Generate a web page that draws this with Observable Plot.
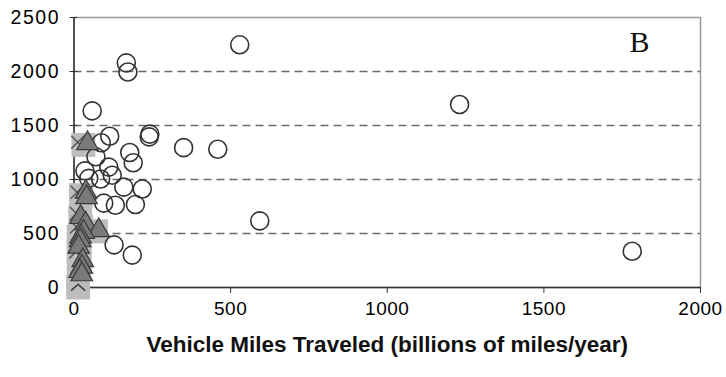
<!DOCTYPE html>
<html>
<head>
<meta charset="utf-8">
<script src="https://cdn.jsdelivr.net/npm/d3@7"></script>
<script src="https://cdn.jsdelivr.net/npm/@observablehq/plot@0.6"></script>
<style>
  html, body { margin: 0; padding: 0; background: #fff; }
  g[aria-label="y-axis tick label"] text { letter-spacing: 1.5px; }
  g[aria-label="x-axis tick label"] text { letter-spacing: 0.5px; }
</style>
</head>
<body>
<div id="chart"></div>
<script>
// Open circles
const circleX = [167, 172, 529, 58, 114, 87, 242, 240, 350, 459, 1231, 178, 189, 70, 111, 35, 85, 47, 122, 159, 218, 95, 132, 196, 128, 186, 593, 1782];
const circleY = [2080, 1995, 2247, 1635, 1400, 1340, 1420, 1395, 1295, 1280, 1694, 1250, 1155, 1210, 1115, 1080, 1005, 1010, 1040, 929, 912, 781, 762, 768, 395, 300, 617, 336];
// Grey triangles
const triX = [43, 38, 40, 21, 37, 79, 31, 21, 20, 15, 28, 25, 18, 25];
const triY = [1335, 885, 835, 650, 590, 528, 512, 470, 435, 375, 250, 190, 150, 120];
// Light grey squares
const sqX = [30, 22, 20, 22, 70, 15, 18, 15, 18, 15, 13];
const sqY = [1320, 855, 650, 560, 520, 470, 400, 330, 250, 170, 0];
// Dark x marks
const xmX = [12, 10, 8, 8, 6];
const xmY = [1345, 882, 685, 560, 330];
const chevX = [13];
const chevY = [0];

const xTicks = [0, 500, 1000, 1500, 2000];
const yTicks = [0, 500, 1000, 1500, 2000, 2500];
const gridY = [500, 1000, 1500, 2000];
const xLabel = "Vehicle Miles Traveled (billions of miles/year)";
const panelLabel = "B";

const circles = circleX.map((x, i) => ({x, y: circleY[i]}));
const tris = triX.map((x, i) => ({x, y: triY[i]}));
const squares = sqX.map((x, i) => ({x, y: sqY[i]}));
const xmarks = xmX.map((x, i) => ({x, y: xmY[i]}));
const chevs = chevX.map((x, i) => ({x, y: chevY[i]}));

const chevron = {
  draw(ctx, size) {
    const r = Math.sqrt(size) / 2;
    ctx.moveTo(-r, r * 0.45);
    ctx.lineTo(0, -r * 0.45);
    ctx.lineTo(r, r * 0.45);
  }
};

const fmt = d => String(d);

const chart = Plot.plot({
  width: 726,
  height: 377,
  marginLeft: 73.5,
  marginRight: 26,
  marginTop: 17,
  marginBottom: 90,
  style: {fontFamily: "'Liberation Sans', Arial, sans-serif", background: "#fff", color: "#000"},
  x: {domain: [0, 2000]},
  y: {domain: [0, 2500]},
  marks: [
    Plot.frame({stroke: "#9a9a9a", strokeWidth: 1.5}),
    Plot.gridY(gridY, {stroke: "#6a6a6a", strokeOpacity: 1, strokeWidth: 1.4, strokeDasharray: "8,5"}),
    Plot.ruleX([0], {stroke: "#333", strokeWidth: 1.5}),
    Plot.ruleY([0], {stroke: "#333", strokeWidth: 1.5}),
    Plot.axisY({ticks: yTicks, tickFormat: fmt, tickSize: 8, dx: 4, tickPadding: 10, fontSize: 19.5, label: null, stroke: "#333", fill: "#000"}),
    Plot.axisX({ticks: xTicks, tickFormat: fmt, tickSize: 6, tickPadding: 8, fontSize: 19, label: null, stroke: "#333", fill: "#000"}),
    Plot.dot(squares, {x: "x", y: "y", symbol: "square", r: 13.5, fill: "#bdbdbd", stroke: "none"}),
    Plot.dot(xmarks, {x: "x", y: "y", symbol: "times", r: 6, stroke: "#555", strokeWidth: 1.5, fill: "none"}),
    Plot.dot(chevs, {x: "x", y: "y", symbol: chevron, r: 8, stroke: "#444", strokeWidth: 1.6, fill: "none"}),
    Plot.dot(circles, {x: "x", y: "y", symbol: "circle", r: 9, stroke: "#333", strokeWidth: 1.6, fill: "none"}),
    Plot.dot(tris, {x: "x", y: "y", symbol: "triangle", r: 8, fill: "#7a7a7a", stroke: "#3a3a3a", strokeWidth: 1.2}),
    Plot.text([xLabel], {frameAnchor: "bottom", dy: 64, fontSize: 22.5, fontWeight: "bold", fill: "#111"}),
    Plot.text([panelLabel], {frameAnchor: "top-right", dx: -51, dy: 13, fontSize: 30, fontFamily: "'Liberation Serif', 'Times New Roman', serif", fill: "#111"})
  ]
});
document.getElementById("chart").appendChild(chart);
</script>
</body>
</html>
